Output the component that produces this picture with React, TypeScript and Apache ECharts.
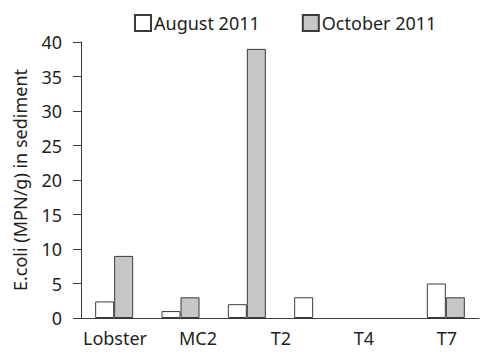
import React, { useEffect, useRef } from "react";
import * as echarts from "echarts";

const slots = ["Lobster", "MC2", "T2", "T4", "", "T7"];
const tickLabels = ["Lobster", "MC2", "T2", "T4", "T7"];
const august: (number | null)[] = [2.4, 1, 2, 3, null, 5];
const october: (number | null)[] = [9, 3, 39, null, null, 3];

const FONT = "Noto Sans";
const TXT = "#231f20";
const EDGE = "#3a3a3a";

export default function App() {
  const ref = useRef<HTMLDivElement>(null);
  useEffect(() => {
    if (!ref.current) return;
    const chart = echarts.init(ref.current, undefined, { renderer: "svg" });
    chart.setOption({
      animation: false,
      textStyle: { fontFamily: FONT, color: TXT },
      legend: {
        left: 129,
        top: 9,
        itemWidth: 16,
        itemHeight: 16,
        itemGap: 42,
        icon: "rect",
        textStyle: { fontFamily: FONT, fontSize: 18, color: TXT, padding: [0, 0, 0, -2] },
        data: ["August 2011", "October 2011"],
      },
      grid: [
        { left: 81, top: 42, width: 398, bottom: 39 },
        { left: 115, top: 42, width: 332, bottom: 39 },
      ],
      xAxis: [
        {
          type: "category",
          gridIndex: 0,
          data: slots,
          axisLine: { show: true, lineStyle: { color: EDGE, width: 1 } },
          axisTick: { show: false },
          axisLabel: { show: false },
        },
        {
          type: "category",
          gridIndex: 1,
          data: tickLabels,
          boundaryGap: false,
          axisLine: { show: false },
          axisTick: { show: false },
          axisLabel: { interval: 0, fontFamily: FONT, fontSize: 18, color: TXT, margin: 11 },
        },
      ],
      yAxis: [
        {
          type: "value",
          gridIndex: 0,
          min: 0,
          max: 40,
          interval: 5,
          name: "E.coli (MPN/g) in sediment",
          nameLocation: "middle",
          nameGap: 52,
          nameTextStyle: { fontFamily: FONT, fontSize: 18, color: TXT },
          axisLine: { show: true, lineStyle: { color: EDGE, width: 1 } },
          axisTick: { show: true, inside: false, length: 8, lineStyle: { color: EDGE } },
          axisLabel: { fontFamily: FONT, fontSize: 18, color: TXT, margin: 19 },
          splitLine: { show: false },
        },
        {
          type: "value",
          gridIndex: 1,
          min: 0,
          max: 40,
          show: false,
        },
      ],
      series: [
        {
          name: "August 2011",
          type: "bar",
          xAxisIndex: 0,
          yAxisIndex: 0,
          data: august,
          barWidth: 19,
          barGap: "0%",
          itemStyle: { color: "#ffffff", borderColor: EDGE, borderWidth: 1 },
        },
        {
          name: "October 2011",
          type: "bar",
          xAxisIndex: 0,
          yAxisIndex: 0,
          data: october,
          barWidth: 19,
          barGap: "0%",
          itemStyle: { color: "#c6c6c6", borderColor: EDGE, borderWidth: 1 },
        },
      ],
    });
    return () => chart.dispose();
  }, []);
  return <div ref={ref} style={{ width: 480, height: 357, position: "absolute", left: 0, top: 0, background: "#fff" }} />;
}
